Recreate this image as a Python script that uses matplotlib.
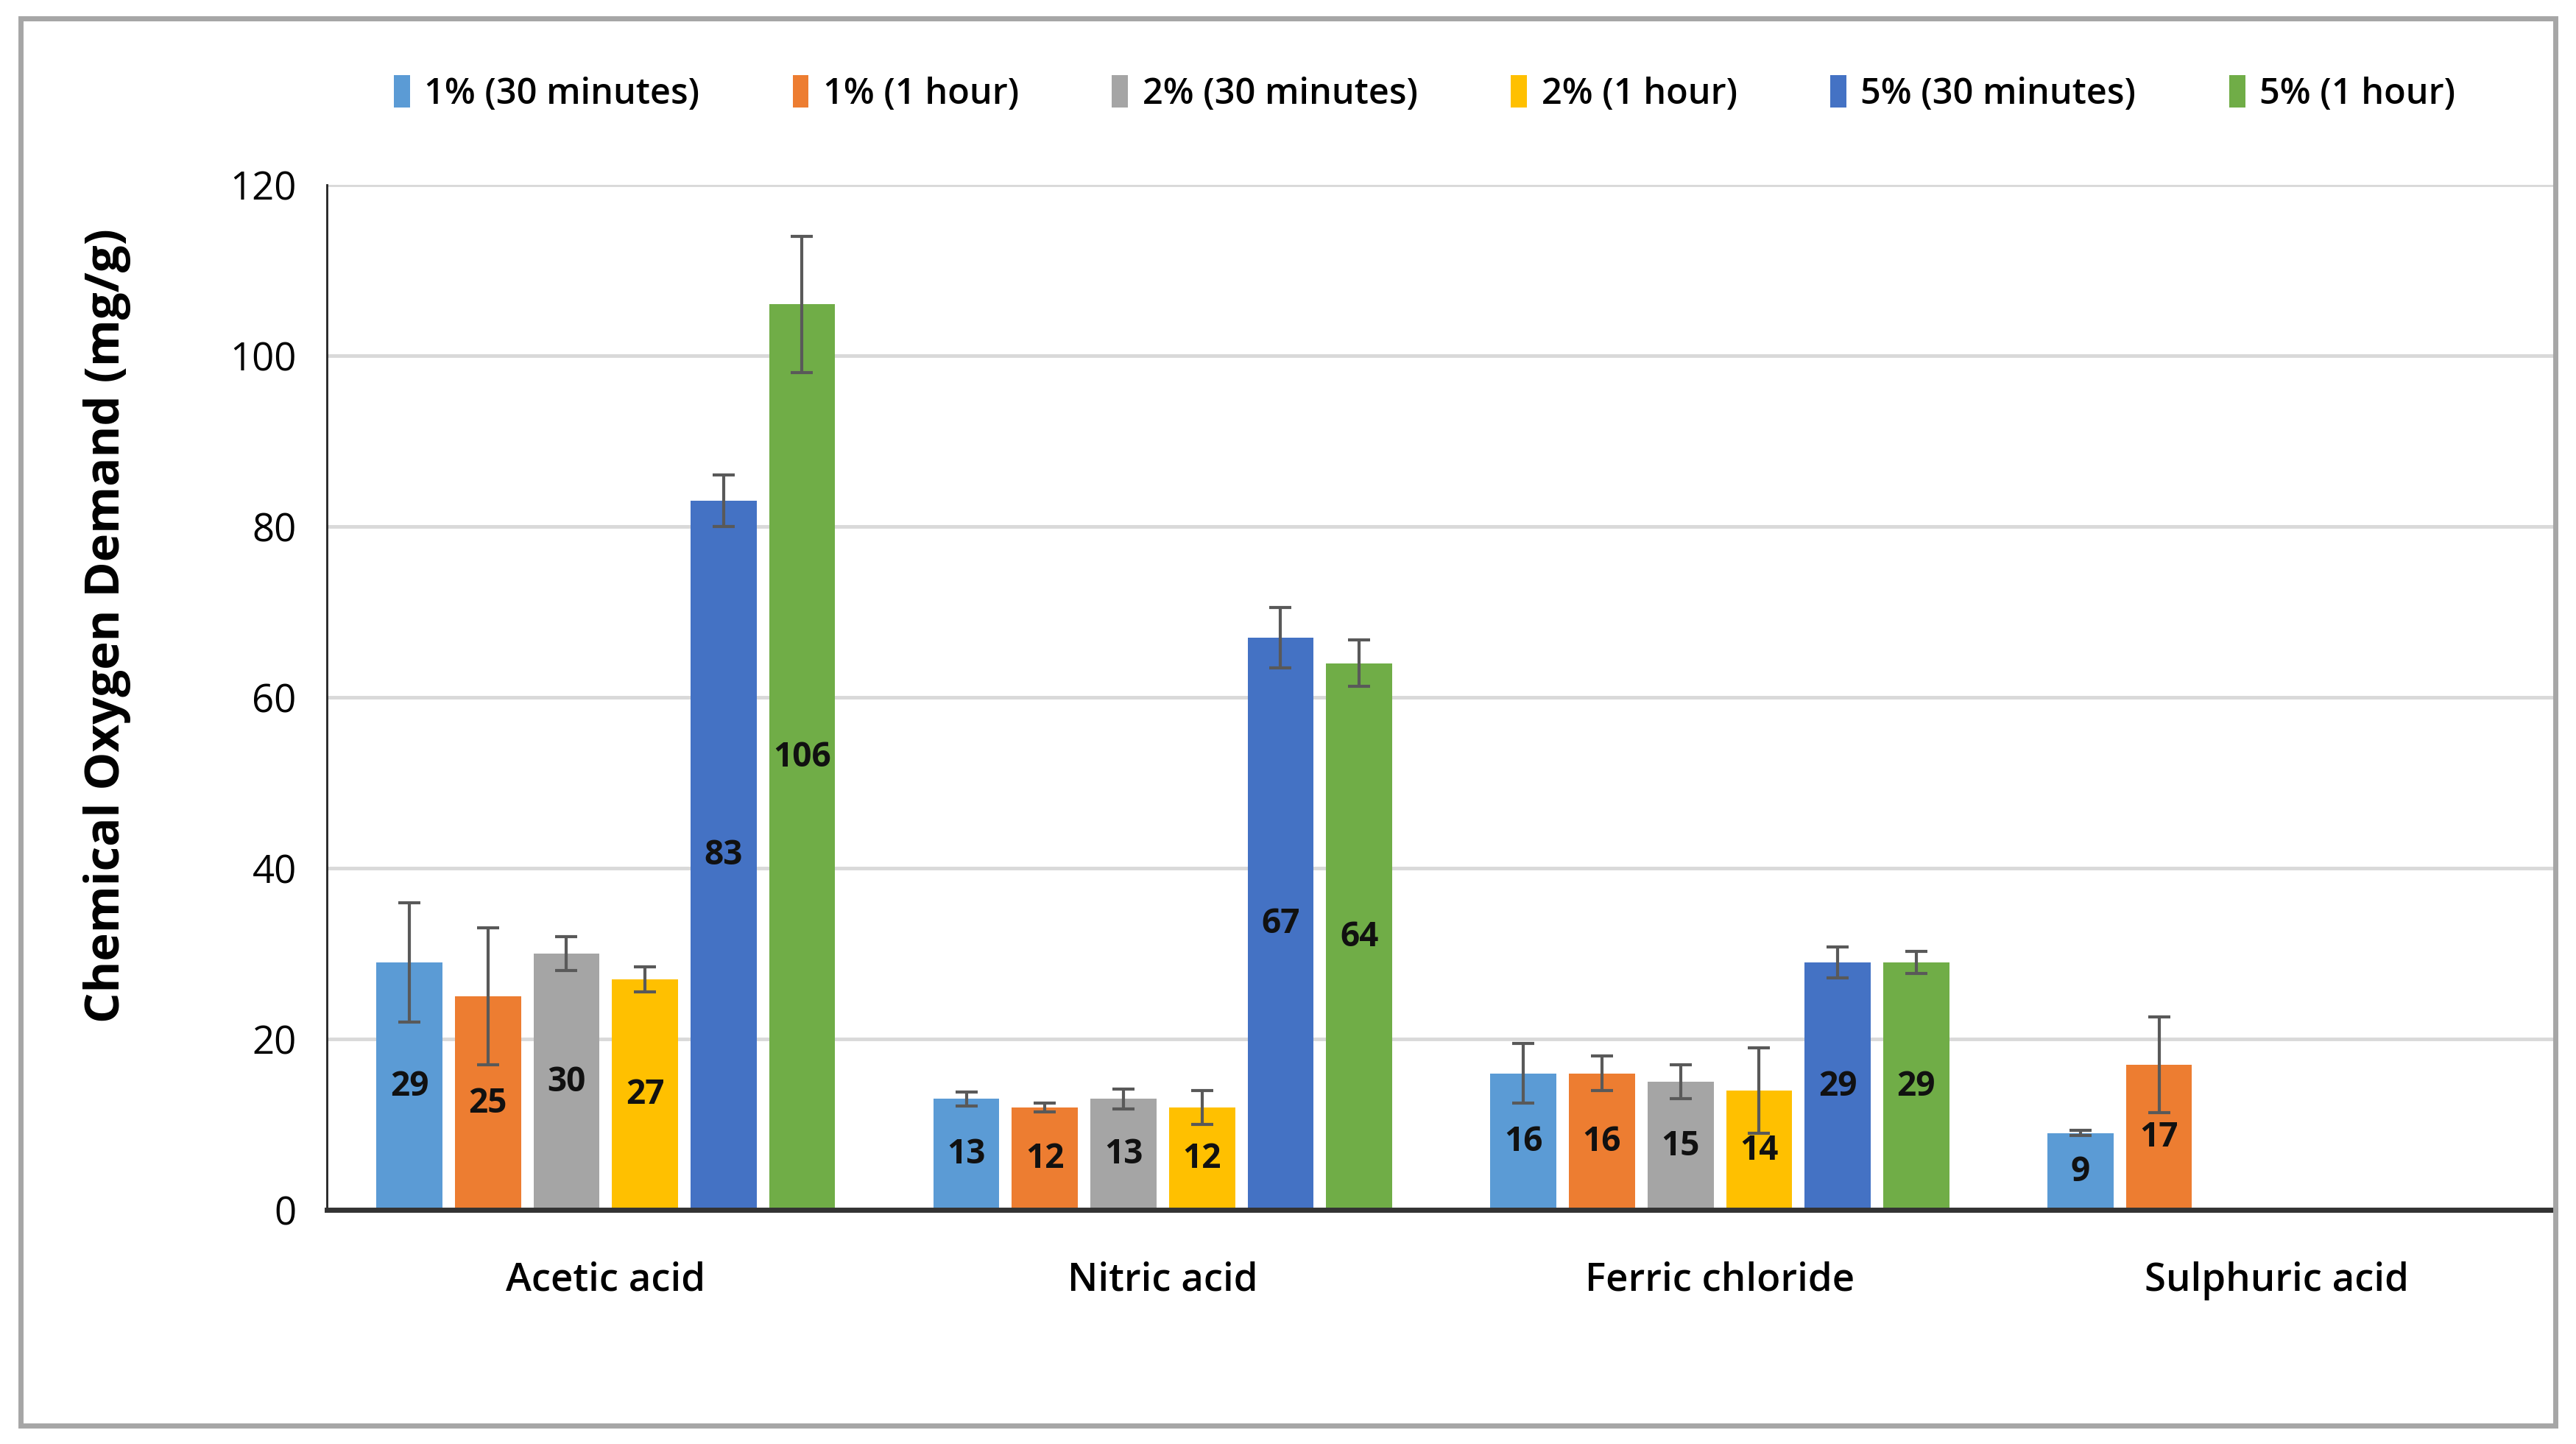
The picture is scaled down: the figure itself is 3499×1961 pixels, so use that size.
import numpy as np
import matplotlib
matplotlib.use('Agg')
import matplotlib.pyplot as plt
from matplotlib.patches import Rectangle

plt.rcParams['font.family'] = ['Open Sans', 'DejaVu Sans']

# data
categories = ['Acetic acid', 'Nitric acid', 'Ferric chloride', 'Sulphuric acid']
series = ['1% (30 minutes)', '1% (1 hour)', '2% (30 minutes)', '2% (1 hour)', '5% (30 minutes)', '5% (1 hour)']
colors = ['#5B9BD5', '#ED7D31', '#A5A5A5', '#FFC000', '#4472C4', '#70AD47']

s1_30 = [29, 13, 16, 9]
s1_60 = [25, 12, 16, 17]
s2_30 = [30, 13, 15, np.nan]
s2_60 = [27, 12, 14, np.nan]
s5_30 = [83, 67, 29, np.nan]
s5_60 = [106, 64, 29, np.nan]

e1_30 = [7, 0.8, 3.5, 0.3]
e1_60 = [8, 0.5, 2, 5.6]
e2_30 = [2, 1.2, 2, np.nan]
e2_60 = [1.5, 2, 5, np.nan]
e5_30 = [3, 3.5, 1.8, np.nan]
e5_60 = [8, 2.7, 1.3, np.nan]

values = [s1_30, s1_60, s2_30, s2_60, s5_30, s5_60]
errors = [e1_30, e1_60, e2_30, e2_60, e5_30, e5_60]

fig = plt.figure(figsize=(34.99, 19.61), dpi=100)
ax = fig.add_axes([0.127, 0.162, 0.865, 0.71])

x = np.arange(len(categories))
slot = 0.141
width = 0.1185
for i, (vals, errs) in enumerate(zip(values, errors)):
    pos = x + (i - 2.5) * slot
    ax.bar(pos, vals, width, color=colors[i], label=series[i], zorder=2)
    ax.errorbar(pos, vals, yerr=errs, fmt='none', ecolor='#595959', elinewidth=3,
                capsize=11, capthick=3, zorder=3)
    for xp, v in zip(pos, vals):
        if not np.isnan(v):
            ax.text(xp, v / 2, '%d' % v, ha='center', va='center', fontsize=33,
                    fontweight='bold', color='#111111', zorder=4)

ax.set_xlim(-0.5, 3.5)
ax.set_ylim(0, 120)
ax.set_yticks(range(0, 121, 20))
ax.set_xticks(x)
ax.set_xticklabels(categories, fontsize=38, fontweight='semibold')
ax.tick_params(axis='x', length=0, pad=50)
ax.tick_params(axis='y', length=0, pad=30, labelsize=38)
ax.yaxis.grid(True, color='#d9d9d9', linewidth=3.5, zorder=0)
ax.set_axisbelow(True)
for s in ['top', 'right']:
    ax.spines[s].set_visible(False)
ax.spines['left'].set_linewidth(2)
ax.spines['left'].set_color('#222222')
ax.spines['bottom'].set_linewidth(5)
ax.spines['bottom'].set_color('#333333')
ax.spines['bottom'].set_zorder(5)

ax.set_ylabel('Chemical Oxygen Demand (mg/g)', fontsize=47, fontweight='bold')
ax.yaxis.set_label_coords(-0.088, 0.57)

fig.legend(loc='center', bbox_to_anchor=(0.553, 0.935), ncol=6, frameon=False,
           prop={'size': 35, 'weight': 'semibold'}, handlelength=0.45, handleheight=1.0,
           handletextpad=0.4, columnspacing=2.6)

fig.patches.append(Rectangle((0.008, 0.013), 0.984, 0.974, transform=fig.transFigure,
                             fill=False, edgecolor='#a6a6a6', linewidth=5))

fig.savefig('out.png', dpi=100)
